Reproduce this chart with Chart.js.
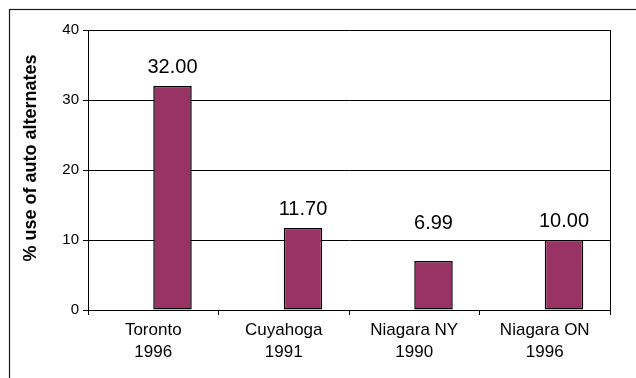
<!DOCTYPE html>
<html>
<head>
<meta charset="utf-8">
<title>% use of auto alternates</title>
<script src="https://cdn.jsdelivr.net/npm/chart.js@4.4.1/dist/chart.umd.min.js"></script>
<style>
  html, body { margin: 0; padding: 0; background: #fff; }
  #wrap { width: 636px; height: 378px; position: relative; }
</style>
</head>
<body>
<div id="wrap"><canvas id="chart" width="636" height="378"></canvas></div>
<script>
// Survey areas (two-line labels: place / survey year)
const categories = [
  ['Toronto', '1996'],
  ['Cuyahoga', '1991'],
  ['Niagara NY', '1990'],
  ['Niagara ON', '1996']
];
// Share of trips using auto alternates, in percent
const autoAlternatesShare = [32.00, 11.70, 6.99, 10.00];
// Empty first series of each cluster (keeps the bars on the right half of each slot)
const emptySeries = [null, null, null, null];
// Value axis ticks
const yTicks = [0, 10, 20, 30, 40];
const yTitle = '% use of auto alternates';

const FONT = "'Liberation Sans', Arial, Helvetica, sans-serif";
const BAR_FILL = '#993366';

// Extra lift (px) for individual value labels
const labelLift = [0, 0, 19, 0];

const framePlugin = {
  id: 'frame',
  beforeDraw(chart) {
    const ctx = chart.ctx;
    ctx.save();
    ctx.fillStyle = '#fff';
    ctx.fillRect(0, 0, chart.width, chart.height);
    ctx.strokeStyle = '#1a1a1a';
    ctx.lineWidth = 1.2;
    ctx.strokeRect(9.5, 9.5, 1000, 1000);
    ctx.restore();
  },
  afterDraw(chart) {
    const {ctx, chartArea} = chart;
    ctx.save();
    // right edge of the plot area
    ctx.strokeStyle = '#000';
    ctx.lineWidth = 1;
    const x = Math.round(chartArea.right) + 0.5;
    ctx.beginPath();
    ctx.moveTo(x, chartArea.top);
    ctx.lineTo(x, chartArea.bottom);
    ctx.stroke();
    // value axis title, rotated
    ctx.translate(31, chartArea.top + (chartArea.bottom - chartArea.top) / 2 - 12);
    ctx.rotate(-Math.PI / 2);
    ctx.font = 'bold 18px ' + FONT;
    ctx.fillStyle = '#000';
    ctx.textAlign = 'center';
    ctx.textBaseline = 'middle';
    ctx.fillText(yTitle, 0, 0);
    ctx.restore();
  }
};

const valueLabelPlugin = {
  id: 'valueLabels',
  afterDatasetsDraw(chart) {
    const ctx = chart.ctx;
    const meta = chart.getDatasetMeta(1);
    ctx.save();
    ctx.font = '20px ' + FONT;
    ctx.fillStyle = '#000';
    ctx.textAlign = 'center';
    ctx.textBaseline = 'alphabetic';
    meta.data.forEach((bar, i) => {
      const v = autoAlternatesShare[i];
      ctx.fillText(v.toFixed(2), bar.x, bar.y - 13.5 - labelLift[i]);
    });
    ctx.restore();
  }
};

new Chart(document.getElementById('chart'), {
  type: 'bar',
  data: {
    labels: categories,
    datasets: [
      {
        label: 'empty',
        data: emptySeries,
        backgroundColor: BAR_FILL,
        borderColor: '#000',
        borderWidth: 1.5
      },
      {
        label: yTitle,
        data: autoAlternatesShare,
        backgroundColor: BAR_FILL,
        borderColor: '#000',
        borderWidth: 1.5,
        borderSkipped: false
      }
    ]
  },
  options: {
    responsive: false,
    animation: false,
    devicePixelRatio: 1,
    layout: { padding: { top: 30, right: 26, left: 0, bottom: 0 } },
    datasets: {
      bar: { categoryPercentage: 0.59, barPercentage: 1.0 }
    },
    plugins: {
      legend: { display: false },
      tooltip: { enabled: false },
      title: { display: false }
    },
    scales: {
      x: {
        offset: true,
        grid: {
          offset: true,
          drawOnChartArea: false,
          drawTicks: true,
          tickLength: 5,
          color: '#000',
          lineWidth: 1
        },
        border: { display: true, color: '#000', width: 1 },
        ticks: {
          color: '#000',
          font: { family: FONT, size: 17, lineHeight: 1.3 },
          padding: 4,
          maxRotation: 0,
          autoSkip: false
        },
        afterFit(scale) { scale.height = 68; }
      },
      y: {
        min: 0,
        max: 40,
        afterBuildTicks(scale) { scale.ticks = yTicks.map(v => ({ value: v })); },
        grid: {
          color: '#000',
          lineWidth: 1,
          tickLength: 5,
          drawTicks: true
        },
        border: { display: true, color: '#000', width: 1 },
        ticks: {
          color: '#000',
          font: { family: FONT, size: 15 },
          padding: 4
        },
        title: { display: false },
        afterFit(scale) { scale.width = 88; }
      }
    }
  },
  plugins: [framePlugin, valueLabelPlugin]
});
</script>
</body>
</html>
